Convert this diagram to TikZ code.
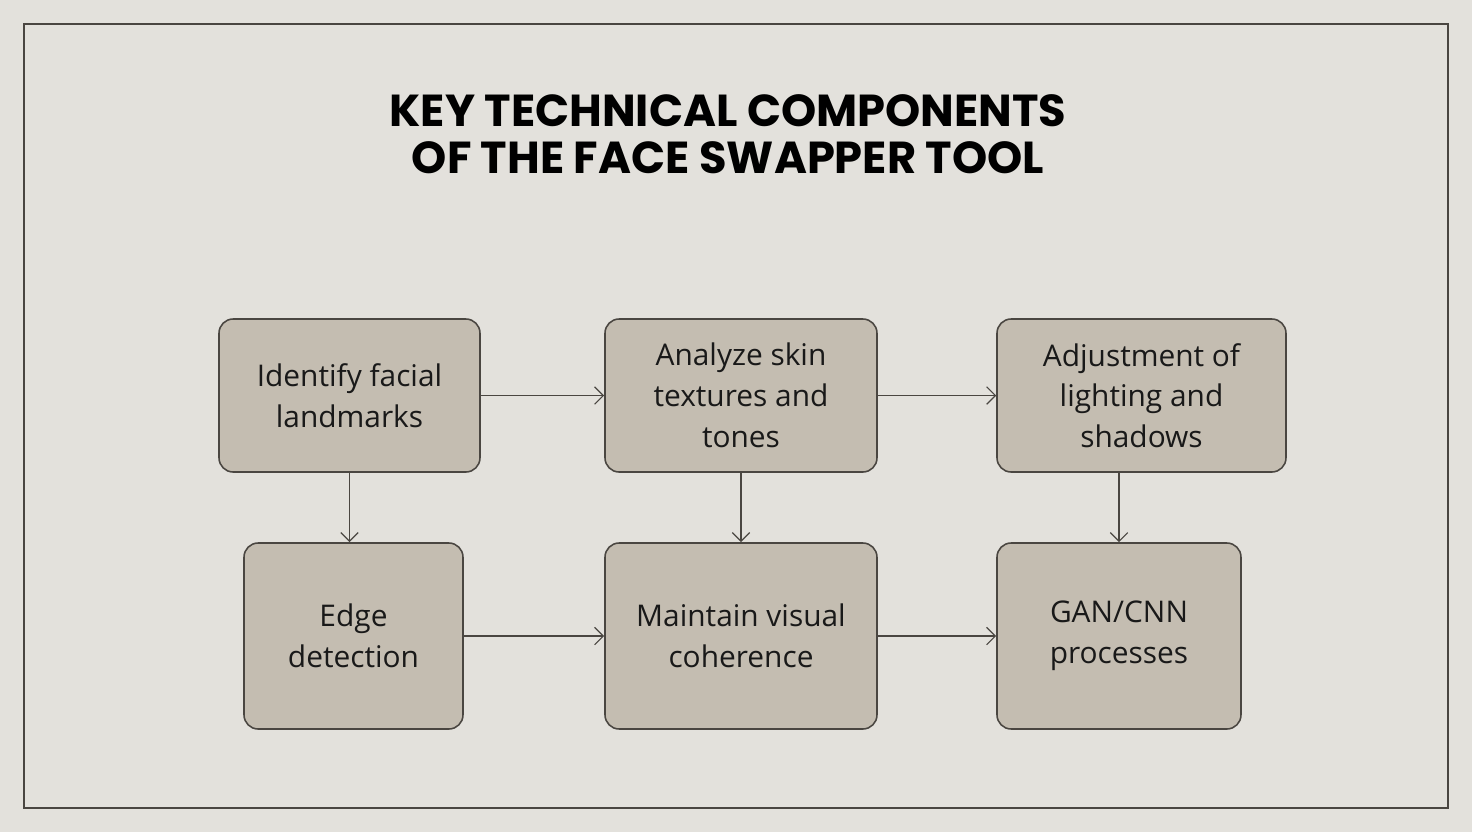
\documentclass[tikz,border=0pt]{standalone}
\usepackage{fontspec}
\setmainfont{Open Sans}
\newfontfamily\titlefont{Poppins}
\usetikzlibrary{positioning,arrows.meta}
\definecolor{pagebg}{HTML}{E3E1DC}
\definecolor{boxfill}{HTML}{C4BDB1}
\definecolor{boxline}{HTML}{4A4641}
\tikzset{
  stage/.style={draw=boxline, fill=boxfill, line width=0.9pt, rounded corners=8pt,
    align=center, font=\fontsize{17}{23.2}\selectfont, text=black!90},
  flow/.style={draw=boxline, line width=0.7pt, -{Straight Barb[length=5pt,width=10pt]}}
}
\begin{document}
\begin{tikzpicture}[x=0.02cm,y=-0.02cm]
\fill[pagebg] (0,0) rectangle (1472,832);
\useasboundingbox (0,0) rectangle (1472,832);
\draw[boxline, line width=1.3pt] (24,24) rectangle (1448,808);

\node[font=\titlefont\bfseries\fontsize{25.5}{27}\selectfont, align=center] (title) at (728,134)
  {KEY TECHNICAL COMPONENTS\\OF THE FACE SWAPPER TOOL};

\node[stage, minimum width=5.22cm, minimum height=3.06cm] (landmarks) at (349.5,395.5) {Identify facial\\landmarks};
\node[stage, minimum width=5.44cm, minimum height=3.06cm] (skin) at (741,395.5) {Analyze skin\\textures and\\tones};
\node[stage, minimum width=5.78cm, minimum height=3.06cm] (lighting) at (1141.5,395.5) {Adjustment of\\lighting and\\shadows};
\node[stage, minimum width=4.38cm, minimum height=3.72cm] (edge) at (353.5,636) {Edge\\detection};
\node[stage, minimum width=5.44cm, minimum height=3.72cm] (coherence) at (741,636) {Maintain visual\\coherence};
\node[stage, minimum width=4.88cm, minimum height=3.72cm] (gan) at (1119,636) {GAN/CNN\\processes};

\draw[flow] (landmarks) -- (skin);
\draw[flow] (skin) -- (lighting);
\draw[flow] (edge.east |- coherence) -- (coherence);
\draw[flow] (coherence) -- (gan);
\draw[flow] (landmarks.south) -- (landmarks.south |- edge.north);
\draw[flow] (skin) -- (coherence);
\draw[flow] (gan.north |- lighting.south) -- (gan.north);
\end{tikzpicture}
\end{document}
